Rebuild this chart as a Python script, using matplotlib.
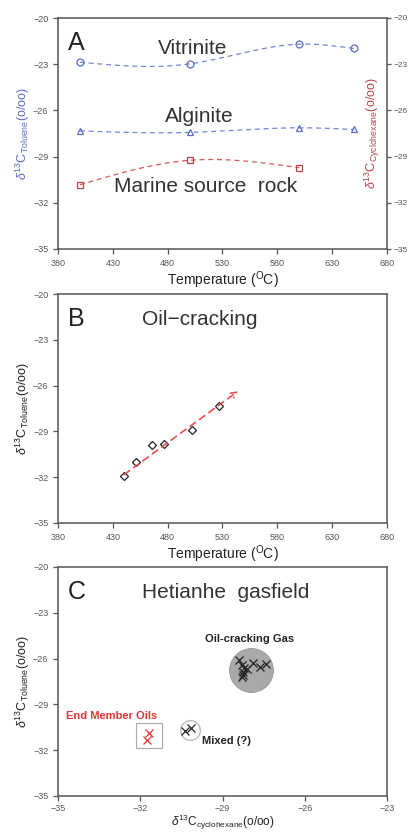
import numpy as np
import matplotlib
matplotlib.use("Agg")
import matplotlib.pyplot as plt
from matplotlib.patches import Rectangle

plt.rcParams['font.family'] = ['Liberation Sans', 'DejaVu Sans']
plt.rcParams['mathtext.fontset'] = 'custom'
plt.rcParams['mathtext.rm'] = 'Liberation Sans'
plt.rcParams['mathtext.it'] = 'Liberation Sans:italic'
plt.rcParams['mathtext.bf'] = 'Liberation Sans:bold'

# ---------------- data ----------------
# Panel A
vit_T = [400, 500, 600, 650]
vit_d = [-22.87, -22.98, -21.70, -21.98]
alg_T = [400, 500, 600, 650]
alg_d = [-27.33, -27.43, -27.13, -27.24]
mar_T = [400, 500, 600]
mar_d = [-30.83, -29.24, -29.72]

# Panel B
oil_T = [440, 451, 466, 477, 502, 527]
oil_d = [-31.94, -31.03, -29.86, -29.80, -28.94, -27.35]
arrow_T = [440.3, 544.2]
arrow_d = [-31.83, -26.36]

# Panel C
gas_x = [-28.40, -28.30, -28.20, -28.25, -28.30, -28.10, -27.90, -27.65, -27.40, -28.25]
gas_y = [-26.10, -26.45, -26.60, -27.05, -27.20, -26.70, -26.30, -26.55, -26.35, -26.85]
gas_center = (-27.95, -26.77)
mix_x = [-30.35, -30.15]
mix_y = [-30.75, -30.55]
mix_center = (-30.20, -30.65)
end_x = [-31.67, -31.77]
end_y = [-30.89, -31.33]
end_box = (-32.17, -31.83, 0.95, 1.60)  # x0, y0, width, height

temp_ticks = [380, 430, 480, 530, 580, 630, 680]
d_ticks = [-20, -23, -26, -29, -32, -35]
cyc_ticks = [-35, -32, -29, -26, -23]


def natural_spline(x, y, n=200):
    x = np.asarray(x, float)
    y = np.asarray(y, float)
    k = len(x)
    h = np.diff(x)
    A = np.zeros((k, k))
    b = np.zeros(k)
    A[0, 0] = 1
    A[-1, -1] = 1
    for i in range(1, k - 1):
        A[i, i - 1] = h[i - 1]
        A[i, i] = 2 * (h[i - 1] + h[i])
        A[i, i + 1] = h[i]
        b[i] = 6 * ((y[i + 1] - y[i]) / h[i] - (y[i] - y[i - 1]) / h[i - 1])
    M = np.linalg.solve(A, b)
    xs = np.linspace(x[0], x[-1], n)
    ys = np.empty_like(xs)
    for j, xv in enumerate(xs):
        i = min(np.searchsorted(x, xv) - 1, k - 2)
        i = max(i, 0)
        t1 = x[i + 1] - xv
        t0 = xv - x[i]
        ys[j] = (M[i] * t1 ** 3 / (6 * h[i]) + M[i + 1] * t0 ** 3 / (6 * h[i])
                 + (y[i] / h[i] - M[i] * h[i] / 6) * t1
                 + (y[i + 1] / h[i] - M[i + 1] * h[i] / 6) * t0)
    return xs, ys


SPINE = '#555555'
TICKC = '#555555'


def style_axes(ax):
    for s in ax.spines.values():
        s.set_color(SPINE)
        s.set_linewidth(1.1)
    ax.tick_params(direction='out', length=3.5, width=0.9, colors=SPINE,
                   labelsize=6.5, labelcolor=TICKC, pad=3.5)


fig = plt.figure(figsize=(4.09, 8.32), dpi=100)
L, W = 58 / 409, 329 / 409
TFS = 15

# ---------------- Panel A ----------------
axA = fig.add_axes([L, 1 - 249 / 832, W, 231 / 832])
style_axes(axA)
axA.set_xlim(380, 680)
axA.set_ylim(-35, -20)
axA.set_xticks(temp_ticks)
axA.set_yticks(d_ticks)

# right axis (cyclohexane) with same scale
axR = axA.twinx()
axR.set_ylim(-35, -20)
axR.set_yticks(d_ticks)
axR.tick_params(axis='y', direction='out', length=3, width=0.9, colors=SPINE,
                labelsize=6, labelcolor=TICKC, pad=1.5)
for s in axR.spines.values():
    s.set_visible(False)

blue_m = '#5a6cc4'
blue_l = '#7186d6'
red_m = '#b84444'
red_l = '#d95a5a'

for T, d, mk in [(vit_T, vit_d, 'o'), (alg_T, alg_d, '^')]:
    xs, ys = natural_spline(T, d)
    axA.plot(xs, ys, ls=(0, (4, 3)), color=blue_l, lw=0.9)
    axA.plot(T, d, ls='none', marker=mk, ms=5, mfc='none', mec=blue_m, mew=0.9)
xs, ys = natural_spline(mar_T, mar_d)
axR.plot(xs, ys, ls=(0, (4, 3)), color=red_l, lw=0.9)
axR.plot(mar_T, mar_d, ls='none', marker='s', ms=5, mfc='none', mec=red_m, mew=0.9)

axA.text(0.03, 0.89, 'A', transform=axA.transAxes, fontsize=18, color='#222222', va='center')
axA.text(0.41, 0.87, 'Vitrinite', transform=axA.transAxes, fontsize=TFS, color='#333333', ha='center', va='center')
axA.text(0.43, 0.575, 'Alginite', transform=axA.transAxes, fontsize=TFS, color='#333333', ha='center', va='center')
axA.text(0.45, 0.27, 'Marine source  rock', transform=axA.transAxes, fontsize=TFS, color='#333333', ha='center', va='center')
axA.set_xlabel(r'Temperature ($\mathregular{^{O}}$C)', fontsize=10, color='#222222', labelpad=1)
axA.set_ylabel(r'$\delta^{13}$C$_{\mathregular{Toluene}}$(o/oo)', fontsize=9, color=blue_m, labelpad=1)
axA.text(0.955, 0.5, r'$\delta^{13}$C$_{\mathregular{Cyclohexane}}$(o/oo)', transform=axA.transAxes,
         rotation=90, fontsize=9, color=red_m, ha='center', va='center')

# ---------------- Panel B ----------------
axB = fig.add_axes([L, 1 - 523 / 832, W, 229 / 832])
style_axes(axB)
axB.set_xlim(380, 680)
axB.set_ylim(-35, -20)
axB.set_xticks(temp_ticks)
axB.set_yticks(d_ticks)
axB.annotate('', xy=(arrow_T[1], arrow_d[1]), xytext=(arrow_T[0], arrow_d[0]),
             arrowprops=dict(arrowstyle='->', color='#e85050', lw=1.2, ls=(0, (4, 3)),
                             shrinkA=0, shrinkB=0))
axB.plot(oil_T, oil_d, ls='none', marker='D', ms=4.3, mfc='white', mec='#222222', mew=0.9)
axB.text(0.03, 0.89, 'B', transform=axB.transAxes, fontsize=18, color='#222222', va='center')
axB.text(0.43, 0.89, 'Oil\u2212cracking', transform=axB.transAxes, fontsize=TFS, color='#333333',
         ha='center', va='center')
axB.set_xlabel(r'Temperature ($\mathregular{^{O}}$C)', fontsize=10, color='#222222', labelpad=1)
axB.set_ylabel(r'$\delta^{13}$C$_{\mathregular{Toluene}}$(o/oo)', fontsize=9, color='#222222', labelpad=1)

# ---------------- Panel C ----------------
axC = fig.add_axes([L, 1 - 796 / 832, W, 229 / 832])
style_axes(axC)
axC.tick_params(axis='x', pad=2)
axC.set_xlim(-35, -23)
axC.set_ylim(-35, -20)
axC.set_xticks(cyc_ticks)
axC.set_yticks(d_ticks)

axC.scatter([gas_center[0]], [gas_center[1]], s=1000, color='#a9a9a9', edgecolor='#999999',
            lw=0.6, zorder=2)
axC.scatter([mix_center[0]], [mix_center[1]], s=200, color='white', edgecolor='#bbbbbb',
            lw=1.0, zorder=2)
axC.add_patch(Rectangle((end_box[0], end_box[1]), end_box[2], end_box[3], fill=False,
                        edgecolor='#aaaaaa', lw=0.8, zorder=2))
axC.plot(gas_x, gas_y, ls='none', marker='x', ms=5.5, mec='#222222', mew=0.9, zorder=3)
axC.plot(mix_x, mix_y, ls='none', marker='x', ms=5.5, mec='#222222', mew=0.9, zorder=3)
axC.plot(end_x, end_y, ls='none', marker='x', ms=5.5, mec='#e03535', mew=0.9, zorder=3)

axC.text(0.03, 0.89, 'C', transform=axC.transAxes, fontsize=18, color='#222222', va='center')
axC.text(0.51, 0.89, 'Hetianhe  gasfield', transform=axC.transAxes, fontsize=TFS, color='#333333',
         ha='center', va='center')
axC.text(-28.0, -24.7, 'Oil-cracking Gas', fontsize=8, fontweight='bold', color='#222222',
         ha='center', va='center')
axC.text(-33.05, -29.75, 'End Member Oils', fontsize=8, fontweight='bold', color='#e03535',
         ha='center', va='center')
axC.text(-28.85, -31.4, 'Mixed (?)', fontsize=8, fontweight='bold', color='#222222',
         ha='center', va='center')
axC.set_xlabel(r'$\delta^{13}$C$_{\mathregular{cyclohexane}}$(o/oo)', fontsize=8.5, color='#222222', labelpad=0)
axC.set_ylabel(r'$\delta^{13}$C$_{\mathregular{Toluene}}$(o/oo)', fontsize=9, color='#222222', labelpad=1)

fig.savefig('out.png', dpi=100)
